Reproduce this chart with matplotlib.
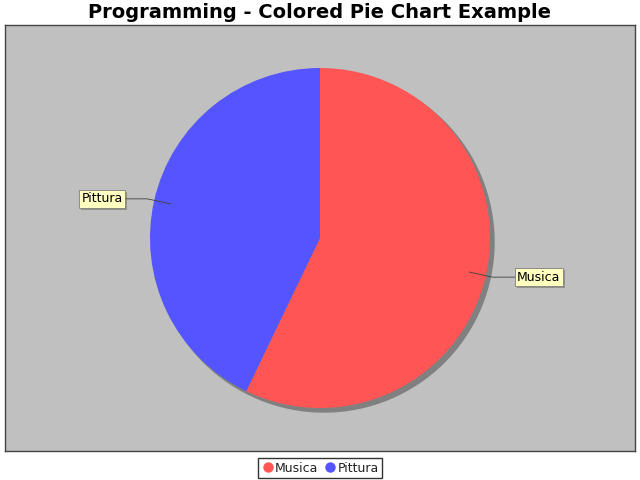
import numpy as np
import matplotlib.pyplot as plt
from matplotlib.patches import Circle
from matplotlib.lines import Line2D
import matplotlib.patheffects as pe

# pie data
labels = ['Musica', 'Pittura']
values = [4, 3]
colors = ['#FF5555', '#5555FF']

title = 'Programming - Colored Pie Chart Example'

fig = plt.figure(figsize=(6.4, 4.8), dpi=100)
fig.patch.set_facecolor('white')

# plot area in pixel units so the pie is a true circle
ax = fig.add_axes([5 / 640, 29 / 480, 630 / 640, 426 / 480])
ax.set_facecolor('#C0C0C0')
cx, cy, r = 320, 242, 170

# shadow behind the pie
ax.add_patch(Circle((cx + 4, cy - 4), r, color='#808080', zorder=1))
wedges, _ = ax.pie(values, colors=colors, startangle=90, counterclock=False,
                   center=(cx, cy), radius=r, frame=True,
                   wedgeprops=dict(linewidth=0, zorder=2))
ax.set_xlim(5, 635)
ax.set_ylim(29, 455)
ax.set_aspect('auto')
ax.set_xticks([])
ax.set_yticks([])
for s in ax.spines.values():
    s.set_color('#444444')
    s.set_linewidth(1.0)

# labels with leader lines
for w, lab in zip(wedges, labels):
    mid = np.deg2rad((w.theta1 + w.theta2) / 2)
    ax_x = cx + 0.9 * r * np.cos(mid)
    ax_y = cy + 0.9 * r * np.sin(mid)
    side = 1 if np.cos(mid) > 0 else -1
    ly = cy + 1.15 * 0.9 * r * np.sin(mid)
    lx = cx + side * 1.145 * r
    ax.plot([ax_x, lx - side * 22, lx], [ax_y, ly, ly],
            color='#404040', lw=0.6, zorder=3)
    t = ax.text(lx + side * 2.5, ly, lab, ha='left' if side > 0 else 'right',
                va='center', fontsize=9, zorder=4,
                bbox=dict(boxstyle='square,pad=0.2', facecolor='#FFFFC0',
                          edgecolor='#808080', linewidth=0.6))
    t.get_bbox_patch().set_path_effects(
        [pe.SimplePatchShadow(offset=(1.5, -1.5), alpha=0.4), pe.Normal()])

fig.text(0.5, 1 - 13 / 480, title, ha='center', va='center',
         fontsize=14, fontweight='bold')

handles = [Line2D([], [], marker='o', linestyle='', markersize=6.5,
                  markerfacecolor=c, markeredgecolor=c) for c in colors]
leg = fig.legend(handles, labels, loc='center', bbox_to_anchor=(0.5, 1 - 468 / 480),
                 ncol=2, fontsize=9, frameon=True, fancybox=False,
                 handletextpad=0.05, columnspacing=0.5, handlelength=1.0,
                 borderpad=0.25, borderaxespad=0)
leg.get_frame().set_edgecolor('black')
leg.get_frame().set_linewidth(1.0)
for txt in leg.get_texts():
    txt.set_color('#222222')

fig.savefig('out.png', dpi=100)
